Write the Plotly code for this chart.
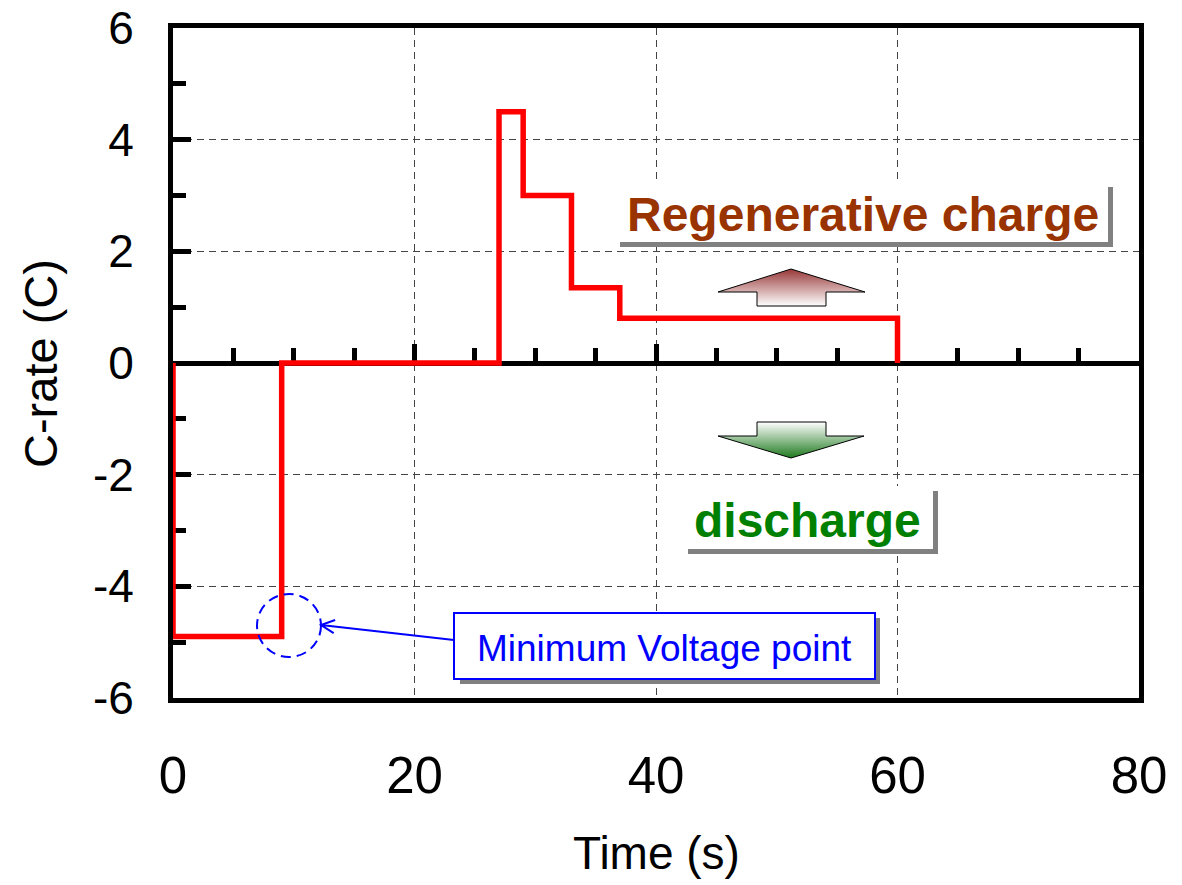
import math
import plotly.graph_objects as go

# ---------------- data ----------------
time_s = [0, 0, 9, 27, 29, 33, 37, 60]
c_rate = [0, -4.9, 0, 4.5, 3.0, 1.35, 0.8, 0]

x_tick_vals = [0, 20, 40, 60, 80]
y_tick_vals = [-6, -4, -2, 0, 2, 4, 6]
y_tick_text = [str(v) for v in y_tick_vals]
x_range = [0, 80]
y_range = [-6, 6]

label_up = "Regenerative charge"
label_down = "discharge"
label_min = "Minimum Voltage point"
x_title = "Time (s)"
y_title = "C-rate (C)"

# ---------------- layout geometry ----------------
W, H = 1182, 885
L, R, T, B = 173, 1139, 28, 698
FONT = "Liberation Sans, Arial, Helvetica, sans-serif"


def px2x(px):
    return x_range[0] + (px - L) / (R - L) * (x_range[1] - x_range[0])


def py2y(py):
    return y_range[1] - (py - T) / (B - T) * (y_range[1] - y_range[0])


def px2paper(px):
    return (px - L) / (R - L)


def py2paper(py):
    return (B - py) / (B - T)


fig = go.Figure()

# gradient block arrows (decorations)
up_arrow_px = [(791, 269), (865, 292), (826, 292), (826, 306), (757, 306), (757, 292), (718, 292), (791, 269)]
down_arrow_px = [(757, 422), (826, 422), (826, 436), (864, 436), (791, 458), (718, 436), (757, 436), (757, 422)]

fig.add_trace(go.Scatter(
    x=[px2x(p[0]) for p in up_arrow_px], y=[py2y(p[1]) for p in up_arrow_px],
    mode="lines", fill="toself",
    fillgradient=dict(type="vertical", colorscale=[[0, "#ffffff"], [1, "#983838"]]),
    line=dict(color="black", width=1), hoverinfo="skip", showlegend=False))
fig.add_trace(go.Scatter(
    x=[px2x(p[0]) for p in down_arrow_px], y=[py2y(p[1]) for p in down_arrow_px],
    mode="lines", fill="toself",
    fillgradient=dict(type="vertical", colorscale=[[0, "#1f7a1f"], [1, "#ffffff"]]),
    line=dict(color="black", width=1), hoverinfo="skip", showlegend=False))

# dummy trace for the zero-line axis
fig.add_trace(go.Scatter(x=x_range, y=[0, 0], xaxis="x2", mode="lines",
                         line=dict(width=0), opacity=0, hoverinfo="skip", showlegend=False))

# main C-rate step line
fig.add_trace(go.Scatter(x=time_s, y=c_rate, mode="lines", line_shape="hv",
                         line=dict(color="#ff0000", width=5.5), showlegend=False))

shapes = []


def rect(x0, y0, x1, y1, fill, line_color=None, lw=0):
    shapes.append(dict(type="rect", xref="x", yref="y", layer="above",
                       x0=px2x(x0), x1=px2x(x1), y0=py2y(y0), y1=py2y(y1),
                       fillcolor=fill,
                       line=dict(color=line_color or fill, width=lw)))


# boxes with shadows
rect(620, 187, 1113, 247, "#808080")
rect(615, 182, 1108, 242, "#ffffff")
rect(688, 491, 938, 554, "#808080")
rect(683, 486, 933, 549, "#ffffff")
rect(460, 618, 880, 684, "#808080")
rect(454, 613, 875, 679, "#ffffff", "#0000ff", 2)

# dashed ellipse around the minimum point
shapes.append(dict(type="circle", xref="x", yref="y", layer="above",
                   x0=px2x(257), x1=px2x(321), y0=py2y(594), y1=py2y(657),
                   line=dict(color="#0000ff", width=2, dash="10px,6px")))

# arrow from box to ellipse
tail = (454, 640)
tip = (321, 625)
dx, dy = tail[0] - tip[0], tail[1] - tip[1]
n = math.hypot(dx, dy)
ux, uy = dx / n, dy / n
hl, ang = 15, math.radians(26)
w1 = (tip[0] + hl * (ux * math.cos(ang) - uy * math.sin(ang)), tip[1] + hl * (ux * math.sin(ang) + uy * math.cos(ang)))
w2 = (tip[0] + hl * (ux * math.cos(-ang) - uy * math.sin(-ang)), tip[1] + hl * (ux * math.sin(-ang) + uy * math.cos(-ang)))


def P(p):
    return f"{px2x(p[0])},{py2y(p[1])}"


shapes.append(dict(type="path", xref="x", yref="y", layer="above",
                   path=f"M{P(tail)} L{P(tip)} M{P(w1)} L{P(tip)} L{P(w2)}",
                   line=dict(color="#0000ff", width=2)))

annotations = [
    dict(x=px2x(863), y=py2y(214), xref="x", yref="y", text=f"<b>{label_up}</b>", showarrow=False,
         xanchor="center", yanchor="middle",
         font=dict(family=FONT, size=48, color="#993300")),
    dict(x=px2x(807), y=py2y(520), xref="x", yref="y", text=f"<b>{label_down}</b>", showarrow=False,
         xanchor="center", yanchor="middle",
         font=dict(family=FONT, size=48, color="#008000")),
    dict(x=px2x(664.5), y=py2y(648), xref="x", yref="y", text=label_min, showarrow=False,
         xanchor="center", yanchor="middle",
         font=dict(family=FONT, size=37, color="#0000ff")),
    dict(x=px2paper(656), y=py2paper(853), xref="paper", yref="paper", text=x_title, showarrow=False,
         xanchor="center", yanchor="middle",
         font=dict(family=FONT, size=46, color="black")),
    dict(x=px2paper(40), y=py2paper(364), xref="paper", yref="paper", text=y_title, showarrow=False,
         xanchor="center", yanchor="middle",
         textangle=-90, font=dict(family=FONT, size=47, color="black")),
]

grid_style = dict(showgrid=True, gridcolor="#444444", gridwidth=1, griddash="7px,5px")

fig.update_layout(
    width=W, height=H,
    margin=dict(l=L, r=W - R, t=T, b=H - B, pad=0, autoexpand=False),
    paper_bgcolor="white", plot_bgcolor="white",
    font=dict(family=FONT, color="black"),
    showlegend=False,
    shapes=shapes,
    annotations=annotations,
    xaxis=dict(range=x_range, tickvals=x_tick_vals, ticks="", zeroline=False,
               showline=True, linecolor="black", linewidth=5, mirror=True,
               tickfont=dict(size=51), ticklabelstandoff=29, automargin=False,
               layer="below traces", **grid_style),
    xaxis2=dict(range=x_range, overlaying="x", anchor="free", position=0.5, side="bottom",
                matches="x", showgrid=False, zeroline=False, showticklabels=False,
                showline=True, linecolor="black", linewidth=5, automargin=False,
                ticks="inside", tick0=0, dtick=20, ticklen=17, tickwidth=5, tickcolor="black",
                minor=dict(ticks="inside", tick0=0, dtick=5, ticklen=13, tickwidth=5, tickcolor="black"),
                layer="below traces"),
    yaxis=dict(range=y_range, tickvals=y_tick_vals, ticktext=y_tick_text, zeroline=False,
               showline=True, linecolor="black", linewidth=5, mirror=True,
               ticks="inside", ticklen=18, tickwidth=5, tickcolor="black",
               minor=dict(ticks="inside", dtick=1, ticklen=13, tickwidth=5, tickcolor="black"),
               tickfont=dict(size=46), ticklabelstandoff=25, automargin=False,
               layer="below traces", **grid_style),
)

fig.write_html("out.html")
